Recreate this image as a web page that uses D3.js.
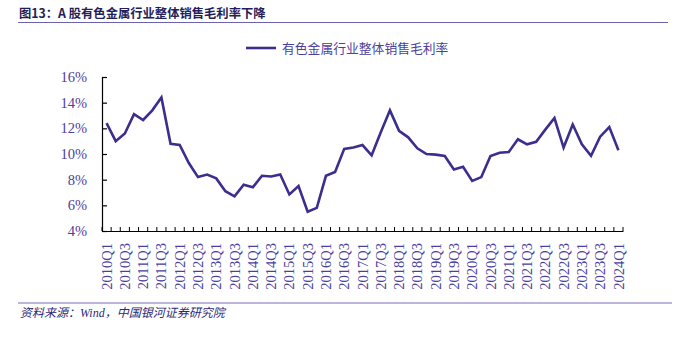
<!DOCTYPE html>
<html><head><meta charset="utf-8">
<script src="https://cdn.jsdelivr.net/npm/d3@7/dist/d3.min.js"></script>
<style>body{margin:0;background:#fff}svg{display:block}</style>
</head><body><svg id="c" width="684" height="338"></svg>
<script>
const titleText = "图13：A 股有色金属行业整体销售毛利率下降";
const sourceText = "资料来源：Wind，中国银河证券研究院";
const seriesName = "有色金属行业整体销售毛利率";
const years = d3.range(2010, 2025);
const categories = [];
years.forEach(y => [1,2,3,4].forEach(q => { if (!(y === 2024 && q > 1)) categories.push(y + "Q" + q); }));
const values = [12.4, 11.0, 11.6, 13.1, 12.65, 13.4, 14.4, 10.8, 10.7, 9.3,
  8.2, 8.4, 8.1, 7.1, 6.7, 7.6, 7.4, 8.3, 8.25, 8.4,
  6.85, 7.5, 5.5, 5.8, 8.3, 8.6, 10.4, 10.5, 10.7, 9.9,
  11.7, 13.4, 11.8, 11.3, 10.45, 10.0, 9.95, 9.85, 8.8, 9.0,
  7.9, 8.2, 9.85, 10.1, 10.15, 11.15, 10.75, 10.95, 11.9, 12.8,
  10.5, 12.3, 10.75, 9.85, 11.35, 12.1, 10.3];
const yTicks = [4, 6, 8, 10, 12, 14, 16];
const tickLabels = categories.filter((d, i) => i % 2 === 0);

const svg = d3.select("#c");
const textColor = "#4b3f9f", lineColor = "#3b2e8c";
const mLeft = 102, mRight = 623, mTop = 77, mBottom = 231;

// title
svg.append("text").attr("x", 19).attr("y", 18)
  .attr("font-family", "'Noto Sans CJK SC'").attr("font-weight", "bold")
  .attr("font-size", 12.3).attr("fill", "#231d5a").text(titleText);
svg.append("line").attr("x1", 18).attr("x2", 668).attr("y1", 22.5).attr("y2", 22.5)
  .attr("stroke", "#6a62aa").attr("stroke-width", 1.2);

const x = d3.scaleBand().domain(categories).range([mLeft, mRight]);
const y = d3.scaleLinear().domain([4, 16]).range([mBottom, mTop]);

// y axis
const ya = svg.append("g").attr("transform", `translate(${mLeft},0)`)
  .call(d3.axisLeft(y).tickValues(yTicks).tickSize(-5).tickPadding(15).tickFormat(d => d + "%"));
ya.select(".domain").attr("stroke", "#000").attr("stroke-width", 1.2);
ya.selectAll(".tick line").attr("stroke", "#000").attr("stroke-width", 1.2);
ya.selectAll("text").attr("font-family", "'Liberation Serif'").attr("font-size", 14.5).attr("fill", textColor);

// x axis
const xa = svg.append("g").attr("transform", `translate(0,${mBottom})`)
  .call(d3.axisBottom(x).tickSize(0).tickValues(tickLabels).tickPadding(0));
xa.select(".domain").attr("stroke", "#000").attr("stroke-width", 1.2);
xa.selectAll("text").attr("font-family", "'Liberation Serif'").attr("font-size", 14.5).attr("fill", textColor)
  .attr("transform", "rotate(-90)").attr("text-anchor", "end").attr("dy", "0.35em").attr("x", -12).attr("y", 0);
// category boundary ticks (inside)
const bounds = categories.map(c => x(c)).concat([mRight]);
svg.append("g").selectAll("line").data(bounds).join("line")
  .attr("x1", d => d).attr("x2", d => d).attr("y1", mBottom).attr("y2", mBottom - 4)
  .attr("stroke", "#000").attr("stroke-width", 1);

// line
const line = d3.line().x((d, i) => x(categories[i]) + x.bandwidth() / 2).y(d => y(d));
svg.append("path").datum(values).attr("d", line).attr("fill", "none")
  .attr("stroke", lineColor).attr("stroke-width", 2.6).attr("stroke-linejoin", "miter");

// legend
svg.append("line").attr("x1", 246).attr("x2", 276).attr("y1", 48).attr("y2", 48)
  .attr("stroke", lineColor).attr("stroke-width", 2.6);
svg.append("text").attr("x", 282).attr("y", 48).attr("dy", "0.36em")
  .attr("font-family", "'Noto Sans CJK SC'").attr("font-size", 12.8).attr("fill", textColor).text(seriesName);

// footer
svg.append("line").attr("x1", 18).attr("x2", 672).attr("y1", 303).attr("y2", 303)
  .attr("stroke", "#bcb5dc").attr("stroke-width", 2);
svg.append("text").attr("x", 20).attr("y", 317)
  .attr("font-family", "'Liberation Serif','Noto Sans CJK SC'").attr("font-style", "italic")
  .attr("font-size", 12).attr("fill", "#2b2a78").text(sourceText);
</script></body></html>
